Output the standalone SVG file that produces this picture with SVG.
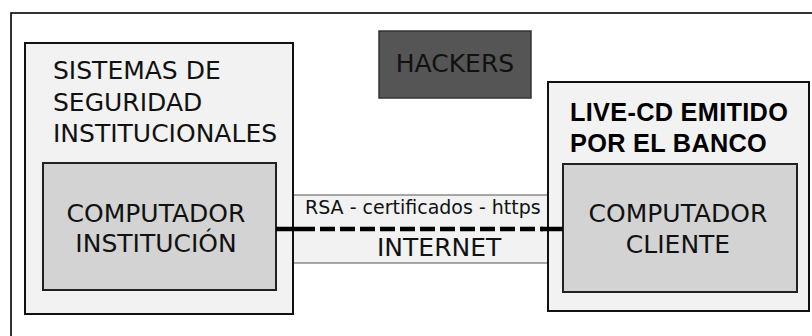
<svg xmlns="http://www.w3.org/2000/svg" width="812" height="336" viewBox="0 0 812 336">
<style>
.t{font-family:"DejaVu Sans",Verdana,sans-serif;fill:#111;}
.b{font-family:"Liberation Sans",Arial,sans-serif;font-weight:bold;fill:#000;}
.box{fill:#f2f2f2;stroke:#111;stroke-width:2;}
.inner{fill:#d3d3d3;stroke:#222;stroke-width:2;}
</style>
<rect x="0" y="0" width="812" height="336" fill="#fff"/>
<rect id="frame" x="11" y="13" width="820" height="340" fill="#fff" stroke="#000" stroke-width="1.6"/>
<g id="internet">
<rect x="293" y="195" width="255" height="68" fill="#f2f2f2" stroke="#555" stroke-width="1"/>
<text class="t" x="305" y="214" font-size="19">RSA - certificados - https</text>
<text class="t" x="377" y="256" font-size="25">INTERNET</text>
</g>
<g id="sistemas">
<rect class="box" x="25" y="43" width="268" height="271"/>
<text class="t" x="53" y="79" font-size="25">SISTEMAS DE</text>
<text class="t" x="53" y="111" font-size="25">SEGURIDAD</text>
<text class="t" x="53" y="142" font-size="25">INSTITUCIONALES</text>
</g>
<g id="computador-institucion">
<rect class="inner" x="43" y="163" width="233" height="127"/>
<text class="t" x="156" y="222" font-size="25" text-anchor="middle">COMPUTADOR</text>
<text class="t" x="156" y="252" font-size="25" text-anchor="middle">INSTITUCIÓN</text>
</g>
<g id="hackers">
<rect x="379" y="31" width="152" height="67" fill="#555" stroke="#333" stroke-width="1.5"/>
<text class="t" x="455" y="72" font-size="25" text-anchor="middle" fill="#151515">HACKERS</text>
</g>
<g id="livecd">
<rect class="box" x="548" y="82" width="261" height="229"/>
<text class="b" x="570" y="121" font-size="25.3" letter-spacing="0.3">LIVE-CD EMITIDO</text>
<text class="b" x="570" y="152" font-size="25.3" letter-spacing="0.3">POR EL BANCO</text>
</g>
<g id="computador-cliente">
<rect class="inner" x="563" y="164" width="234" height="128"/>
<text class="t" x="678" y="222" font-size="25" text-anchor="middle">COMPUTADOR</text>
<text class="t" x="678" y="253" font-size="25" text-anchor="middle">CLIENTE</text>
</g>
<g id="connectors">
<line x1="276" y1="229" x2="300" y2="229" stroke="#000" stroke-width="4.5"/>
<line x1="300" y1="229" x2="543" y2="229" stroke="#000" stroke-width="4.5" stroke-dasharray="15 5"/>
<line x1="541" y1="229" x2="563" y2="229" stroke="#000" stroke-width="4.5"/>
</g>
</svg>
